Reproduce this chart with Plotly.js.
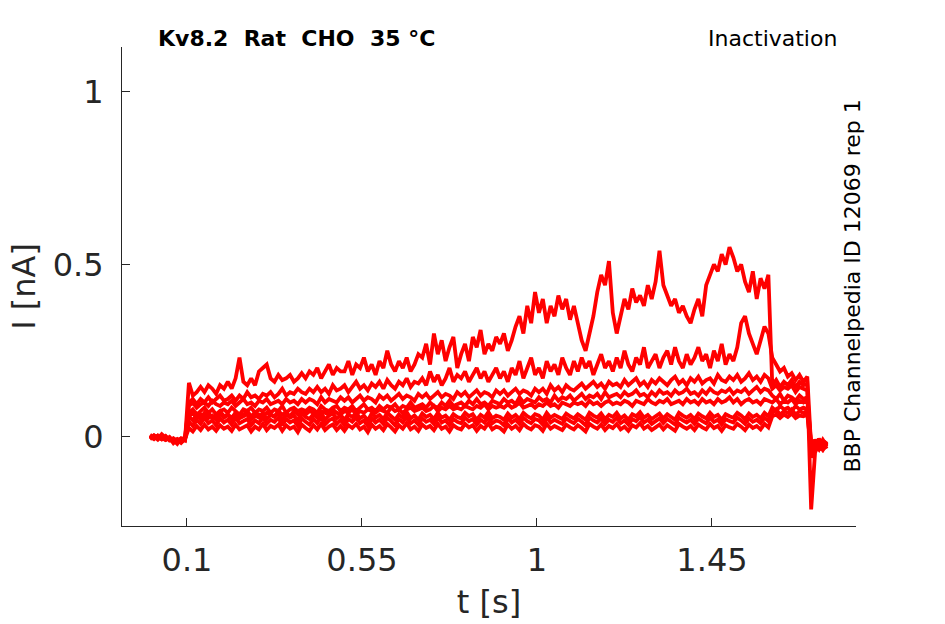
<!DOCTYPE html>
<html><head><meta charset="utf-8">
<script src="https://cdn.plot.ly/plotly-3.0.1.min.js"></script>
<style>html,body{margin:0;padding:0;background:#fff}</style>
</head><body>
<div id="chart" style="width:945px;height:624px"></div>
<script>
// sampling of the recorded sweeps (seconds)
const T0 = 0.005;
const DT = 0.01;

// Sweeps: 10 baseline, 150 prepulse, 10 test pulse, 5 tail samples (nA)
const sweepA = [
0.002,-0.004,0.004,-0.006,0.0,-0.008,-0.014,-0.01,-0.004,-0.008,
0.157,0.12,0.13,0.145,0.13,0.15,0.14,0.125,0.15,0.14,
0.16,0.14,0.17,0.23,0.16,0.15,0.17,0.15,0.19,0.2,
0.21,0.17,0.16,0.18,0.165,0.17,0.18,0.16,0.17,0.185,
0.17,0.19,0.18,0.2,0.17,0.19,0.21,0.18,0.2,0.19,
0.19,0.22,0.18,0.21,0.2,0.23,0.19,0.21,0.18,0.22,
0.2,0.25,0.21,0.19,0.22,0.2,0.23,0.19,0.21,0.24,
0.23,0.27,0.21,0.3,0.24,0.28,0.22,0.26,0.29,0.2,
0.24,0.27,0.22,0.29,0.26,0.31,0.24,0.27,0.25,0.29,
0.27,0.3,0.25,0.28,0.32,0.35,0.3,0.38,0.33,0.42,
0.36,0.4,0.33,0.38,0.35,0.41,0.37,0.4,0.34,0.38,
0.33,0.28,0.25,0.3,0.35,0.42,0.47,0.44,0.51,0.36,
0.3,0.35,0.4,0.37,0.43,0.39,0.41,0.38,0.44,0.4,
0.45,0.54,0.44,0.41,0.38,0.4,0.36,0.38,0.35,0.33,
0.37,0.4,0.35,0.44,0.47,0.5,0.48,0.53,0.5,0.55,
0.52,0.48,0.5,0.45,0.42,0.48,0.4,0.46,0.43,0.47,
0.15,0.165,0.145,0.16,0.15,0.165,0.145,0.16,0.15,0.155,
-0.21,-0.045,-0.02,-0.035,-0.015];

const sweepB = [
-0.003,0.005,-0.002,0.001,-0.007,-0.003,-0.01,-0.016,-0.006,-0.002,
0.1,0.11,0.095,0.11,0.1,0.115,0.1,0.11,0.12,0.105,
0.11,0.12,0.105,0.12,0.11,0.13,0.115,0.12,0.11,0.125,
0.12,0.13,0.115,0.125,0.14,0.12,0.13,0.125,0.14,0.13,
0.125,0.14,0.13,0.145,0.13,0.14,0.125,0.15,0.135,0.14,
0.15,0.13,0.145,0.16,0.14,0.15,0.135,0.155,0.145,0.16,
0.14,0.165,0.15,0.14,0.16,0.15,0.17,0.145,0.16,0.155,
0.17,0.15,0.19,0.16,0.18,0.15,0.17,0.2,0.16,0.18,
0.17,0.19,0.16,0.18,0.2,0.17,0.19,0.16,0.18,0.2,
0.17,0.19,0.16,0.2,0.18,0.22,0.17,0.2,0.23,0.18,
0.2,0.17,0.22,0.19,0.21,0.18,0.23,0.2,0.18,0.22,
0.19,0.23,0.2,0.22,0.18,0.21,0.24,0.2,0.22,0.19,
0.23,0.2,0.25,0.21,0.19,0.23,0.21,0.26,0.2,0.22,
0.24,0.2,0.23,0.25,0.21,0.26,0.22,0.2,0.24,0.21,
0.23,0.26,0.22,0.24,0.2,0.25,0.22,0.27,0.21,0.24,
0.22,0.26,0.33,0.35,0.3,0.27,0.24,0.28,0.32,0.3,
0.23,0.21,0.19,0.2,0.175,0.185,0.165,0.18,0.16,0.175,
-0.03,-0.012,-0.038,-0.02,-0.028];

const sweepC = [
0.006,-0.001,0.002,-0.005,0.003,-0.009,-0.005,-0.012,-0.008,-0.003,
0.09,0.1,0.085,0.095,0.1,0.09,0.105,0.095,0.09,0.1,
0.095,0.105,0.09,0.1,0.11,0.095,0.1,0.09,0.105,0.1,
0.11,0.095,0.1,0.105,0.095,0.11,0.1,0.105,0.095,0.11,
0.1,0.11,0.105,0.095,0.115,0.1,0.11,0.105,0.1,0.115,
0.105,0.115,0.1,0.11,0.12,0.105,0.115,0.11,0.1,0.12,
0.11,0.12,0.105,0.115,0.125,0.11,0.12,0.115,0.105,0.125,
0.115,0.125,0.11,0.12,0.13,0.115,0.125,0.12,0.11,0.13,
0.12,0.13,0.115,0.125,0.135,0.12,0.13,0.125,0.115,0.135,
0.125,0.135,0.12,0.13,0.14,0.125,0.135,0.13,0.12,0.14,
0.13,0.14,0.125,0.15,0.135,0.145,0.13,0.15,0.14,0.135,
0.145,0.155,0.14,0.15,0.16,0.145,0.155,0.14,0.16,0.15,
0.155,0.145,0.165,0.15,0.16,0.17,0.15,0.16,0.145,0.165,
0.155,0.17,0.16,0.15,0.165,0.175,0.155,0.165,0.15,0.17,
0.16,0.175,0.155,0.165,0.17,0.155,0.18,0.165,0.16,0.175,
0.165,0.18,0.16,0.17,0.185,0.165,0.175,0.16,0.18,0.17,
0.14,0.15,0.135,0.145,0.14,0.15,0.13,0.145,0.14,0.135,
-0.05,-0.018,-0.03,-0.008,-0.025];

const sweepD = [
-0.005,0.001,-0.008,0.003,-0.004,-0.002,-0.018,-0.008,-0.011,-0.005,
0.07,0.08,0.065,0.075,0.085,0.07,0.08,0.065,0.075,0.08,
0.07,0.085,0.075,0.065,0.08,0.075,0.085,0.07,0.08,0.075,
0.085,0.07,0.08,0.075,0.09,0.07,0.08,0.085,0.075,0.08,
0.075,0.085,0.08,0.07,0.09,0.08,0.075,0.085,0.09,0.075,
0.085,0.08,0.09,0.075,0.085,0.095,0.08,0.085,0.075,0.09,
0.08,0.09,0.085,0.095,0.08,0.09,0.085,0.1,0.085,0.09,
0.095,0.085,0.1,0.09,0.085,0.1,0.09,0.105,0.09,0.095,
0.1,0.09,0.105,0.095,0.11,0.095,0.1,0.09,0.105,0.1,
0.095,0.11,0.1,0.105,0.095,0.115,0.1,0.11,0.105,0.1,
0.115,0.105,0.11,0.1,0.12,0.105,0.115,0.11,0.12,0.105,
0.115,0.125,0.11,0.12,0.115,0.125,0.11,0.13,0.115,0.12,
0.125,0.115,0.13,0.12,0.125,0.135,0.12,0.125,0.115,0.13,
0.12,0.135,0.125,0.13,0.12,0.135,0.125,0.13,0.14,0.125,
0.13,0.12,0.135,0.125,0.14,0.13,0.125,0.135,0.13,0.14,
0.125,0.135,0.13,0.14,0.125,0.135,0.145,0.13,0.14,0.135,
0.12,0.11,0.125,0.105,0.12,0.115,0.105,0.12,0.11,0.115,
-0.02,-0.034,-0.01,-0.03,-0.018];

const sweepE = [
0.001,-0.006,0.004,-0.003,-0.009,0.0,-0.012,-0.006,-0.015,-0.007,
0.06,0.07,0.055,0.065,0.06,0.07,0.055,0.065,0.075,0.06,
0.065,0.055,0.07,0.06,0.065,0.075,0.06,0.07,0.065,0.06,
0.07,0.065,0.06,0.075,0.065,0.07,0.06,0.075,0.065,0.07,
0.065,0.075,0.07,0.06,0.075,0.07,0.065,0.08,0.07,0.065,
0.075,0.07,0.08,0.065,0.075,0.07,0.08,0.075,0.07,0.08,
0.075,0.07,0.085,0.075,0.08,0.07,0.08,0.085,0.075,0.08,
0.085,0.075,0.08,0.09,0.075,0.085,0.08,0.09,0.08,0.085,
0.08,0.09,0.085,0.08,0.09,0.085,0.095,0.08,0.09,0.085,
0.09,0.085,0.095,0.085,0.09,0.1,0.085,0.09,0.095,0.085,
0.095,0.09,0.1,0.09,0.095,0.085,0.1,0.095,0.09,0.1,
0.095,0.1,0.09,0.105,0.095,0.1,0.09,0.1,0.105,0.095,
0.1,0.095,0.105,0.1,0.09,0.105,0.1,0.095,0.11,0.1,
0.095,0.105,0.1,0.11,0.095,0.1,0.105,0.095,0.11,0.1,
0.105,0.095,0.11,0.1,0.105,0.095,0.11,0.1,0.105,0.115,
0.1,0.11,0.095,0.105,0.11,0.1,0.105,0.095,0.11,0.105,
0.1,0.11,0.095,0.105,0.1,0.11,0.095,0.105,0.1,0.11,
-0.04,-0.01,-0.028,-0.016,-0.034];

const sweepF = [
-0.002,0.004,-0.005,0.008,-0.002,-0.006,-0.009,-0.02,-0.005,-0.01,
0.06,0.048,0.066,0.052,0.07,0.055,0.062,0.05,0.068,0.056,
0.064,0.05,0.07,0.054,0.06,0.066,0.05,0.062,0.056,0.07,
0.052,0.064,0.058,0.07,0.05,0.066,0.056,0.062,0.048,0.068,
0.058,0.052,0.066,0.056,0.07,0.05,0.062,0.068,0.054,0.064,
0.05,0.066,0.058,0.07,0.054,0.062,0.048,0.068,0.056,0.064,
0.052,0.07,0.06,0.05,0.066,0.056,0.072,0.054,0.062,0.05,
0.068,0.058,0.064,0.052,0.07,0.056,0.062,0.05,0.066,0.058,
0.054,0.07,0.06,0.066,0.05,0.064,0.056,0.072,0.054,0.062,
0.058,0.05,0.068,0.056,0.064,0.052,0.07,0.06,0.054,0.066,
0.062,0.05,0.07,0.056,0.064,0.058,0.052,0.068,0.06,0.054,
0.066,0.058,0.05,0.07,0.062,0.056,0.068,0.052,0.064,0.058,
0.07,0.054,0.062,0.05,0.066,0.06,0.072,0.056,0.064,0.052,
0.06,0.068,0.054,0.066,0.058,0.05,0.07,0.062,0.056,0.064,
0.052,0.068,0.06,0.054,0.07,0.058,0.064,0.05,0.066,0.06,
0.056,0.07,0.062,0.052,0.068,0.058,0.064,0.054,0.07,0.06,
0.085,0.075,0.09,0.08,0.085,0.075,0.09,0.08,0.085,0.08,
-0.06,-0.022,-0.036,-0.012,-0.024];

const sweepG = [
0.003,-0.004,0.0,-0.007,0.002,-0.01,-0.004,-0.013,-0.009,-0.004,
0.044,0.032,0.05,0.038,0.056,0.04,0.048,0.034,0.054,0.042,
0.05,0.036,0.056,0.04,0.046,0.052,0.034,0.048,0.04,0.058,
0.038,0.05,0.044,0.056,0.034,0.052,0.042,0.048,0.032,0.054,
0.044,0.036,0.052,0.04,0.058,0.036,0.048,0.054,0.038,0.05,
0.034,0.052,0.044,0.056,0.04,0.048,0.032,0.054,0.042,0.05,
0.038,0.056,0.046,0.034,0.052,0.042,0.058,0.04,0.048,0.036,
0.054,0.044,0.05,0.038,0.056,0.042,0.048,0.034,0.052,0.044,
0.04,0.056,0.046,0.052,0.036,0.05,0.042,0.058,0.04,0.048,
0.044,0.034,0.054,0.042,0.05,0.038,0.056,0.046,0.04,0.052,
0.048,0.036,0.056,0.042,0.05,0.044,0.038,0.054,0.046,0.04,
0.052,0.044,0.034,0.056,0.048,0.042,0.054,0.038,0.05,0.044,
0.056,0.04,0.048,0.036,0.052,0.046,0.058,0.042,0.05,0.038,
0.046,0.054,0.04,0.052,0.044,0.036,0.056,0.048,0.042,0.05,
0.038,0.054,0.046,0.04,0.056,0.044,0.05,0.036,0.052,0.046,
0.042,0.056,0.048,0.038,0.054,0.044,0.05,0.04,0.056,0.046,
0.07,0.08,0.065,0.075,0.07,0.08,0.065,0.075,0.07,0.075,
-0.015,-0.03,-0.005,-0.026,-0.012];

const sweepH = [
-0.006,0.002,-0.003,0.004,-0.008,-0.004,-0.011,-0.007,-0.017,-0.006,
0.026,0.016,0.032,0.02,0.036,0.022,0.03,0.018,0.034,0.024,
0.03,0.018,0.036,0.022,0.028,0.034,0.016,0.03,0.022,0.038,
0.02,0.032,0.026,0.036,0.018,0.034,0.024,0.03,0.014,0.036,
0.026,0.018,0.034,0.022,0.038,0.02,0.03,0.036,0.02,0.032,
0.018,0.034,0.026,0.038,0.022,0.03,0.014,0.036,0.024,0.032,
0.02,0.038,0.028,0.016,0.034,0.024,0.04,0.022,0.03,0.018,
0.036,0.026,0.032,0.02,0.038,0.024,0.03,0.016,0.034,0.026,
0.022,0.038,0.028,0.034,0.018,0.032,0.024,0.04,0.022,0.03,
0.026,0.016,0.036,0.024,0.032,0.02,0.038,0.028,0.022,0.034,
0.03,0.018,0.038,0.024,0.032,0.026,0.02,0.036,0.028,0.022,
0.034,0.026,0.016,0.038,0.03,0.024,0.036,0.02,0.032,0.026,
0.038,0.022,0.03,0.018,0.034,0.028,0.04,0.024,0.032,0.02,
0.028,0.036,0.022,0.034,0.026,0.018,0.038,0.03,0.024,0.032,
0.02,0.036,0.028,0.022,0.038,0.026,0.032,0.018,0.034,0.028,
0.024,0.038,0.03,0.02,0.036,0.026,0.032,0.022,0.038,0.028,
0.06,0.065,0.055,0.065,0.058,0.068,0.055,0.062,0.06,0.065,
-0.035,-0.008,-0.024,-0.038,-0.02];

const xTickVals = [0.1, 0.55, 1, 1.45];
const xTickText = ['0.1', '0.55', '1', '1.45'];
const yTickVals = [0, 0.5, 1];
const yTickText = ['0', '0.5', '1'];

const sweeps = [sweepH, sweepG, sweepF, sweepE, sweepD, sweepC, sweepB, sweepA];
const data = sweeps.map(function (y) {
  return {
    type: 'scatter', mode: 'lines', x0: T0, dx: DT, y: y,
    line: {color: '#ff0000', width: 3.8, simplify: false},
    hoverinfo: 'skip', showlegend: false
  };
});

const axisColor = '#262626';
const layout = {
  width: 945, height: 624,
  margin: {l: 122, r: 89, t: 47, b: 98},
  paper_bgcolor: '#ffffff', plot_bgcolor: '#ffffff',
  showlegend: false,
  font: {family: 'DejaVu Sans', color: axisColor},
  xaxis: {
    range: [-0.0671, 1.8203], tickmode: 'array', tickvals: xTickVals, ticktext: xTickText,
    ticks: 'inside', ticklen: 8, tickwidth: 1, tickcolor: axisColor,
    showline: true, linecolor: axisColor, linewidth: 1,
    showgrid: false, zeroline: false, ticklabelstandoff: 6,
    tickfont: {size: 32, color: axisColor},
    title: {text: 't [s]', font: {size: 32, color: axisColor}, standoff: 12}
  },
  yaxis: {
    range: [-0.258, 1.1304], tickmode: 'array', tickvals: yTickVals, ticktext: yTickText,
    ticks: 'inside', ticklen: 8, tickwidth: 1, tickcolor: axisColor,
    showline: true, linecolor: axisColor, linewidth: 1,
    showgrid: false, zeroline: false, ticklabelstandoff: 11,
    tickfont: {size: 32, color: axisColor},
    title: {text: 'I [nA]', font: {size: 32, color: axisColor}, standoff: 7}
  },
  annotations: [
    {text: 'Kv8.2\u00a0\u00a0Rat\u00a0\u00a0CHO\u00a0\u00a035\u00a0°C', xref: 'paper', yref: 'paper',
     x: 0.047, y: 1.0175, xanchor: 'left', yanchor: 'middle', showarrow: false,
     font: {size: 22, color: '#000000', weight: 'bold'}},
    {text: 'Inactivation', xref: 'paper', yref: 'paper',
     x: 0.9768, y: 1.0175, xanchor: 'right', yanchor: 'middle', showarrow: false,
     font: {size: 22, color: '#000000'}},
    {text: 'BBP Channelpedia ID 12069 rep 1', xref: 'paper', yref: 'paper',
     x: 0.9946, y: 0.5, xanchor: 'center', yanchor: 'middle', textangle: -90, showarrow: false,
     font: {size: 22, color: '#000000'}}
  ]
};

Plotly.newPlot('chart', data, layout, {displayModeBar: false, staticPlot: true});
</script>
</body></html>
